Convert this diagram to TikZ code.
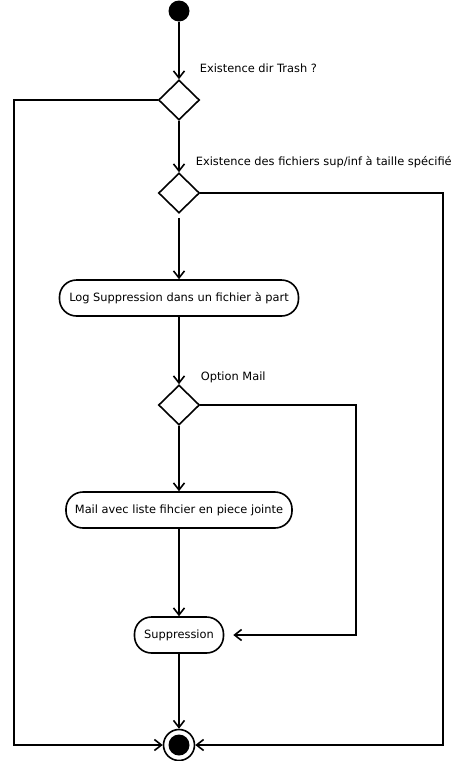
\documentclass[tikz,border=0pt]{standalone}
\usepackage{fontspec}
\setmainfont{DejaVu Sans}
\usetikzlibrary{arrows.meta,shapes.geometric}

\begin{document}
\begin{tikzpicture}
			[x=1pt,y=-1pt,line width=1.6pt,font=\fontsize{11.4}{13}\selectfont,
			every node/.style={inner sep=0pt},
			etat/.style={draw,rounded corners=17pt,minimum height=36pt},
			choix/.style={diamond,draw,minimum width=41pt,minimum height=40pt},
			edge/.style={->,>={Straight Barb[length=7pt,width=11pt]}}]
			\useasboundingbox (0,0) rectangle (452,761);
			\node[circle,fill,minimum size=21pt] (debut) at (179,11) {};
			\node[choix] (trash) at (179,100) {};
			\node[choix] (taille) at (179,193) {};
			\node[etat,minimum width=239pt] (log) at (179,298) {Log Suppression dans un fichier à part};
			\node[choix] (mail) at (179,405) {};
			\node[etat,minimum width=226pt] (envoi) at (179,510) {Mail avec liste fihcier en piece jointe};
			\node[etat,minimum width=89pt] (suppr) at (179,635) {Suppression};
			\node[circle,draw,minimum size=31pt] (fin) at (179,745) {};
			\node[circle,fill,minimum size=21pt] (fincoeur) at (fin) {};
			
			\node[anchor=west] (ltrash) at (199,68) {Existence dir Trash ?};
			\node[anchor=west] (ltaille) at (195,162) {Existence des fichiers sup/inf à taille spécifiée};
			\node[anchor=west] (lmail) at (200,377) {Option Mail};
			
			\coordinate (g1) at (14,100);
			\coordinate (g2) at (14,745);
			\coordinate (d1) at (443,193);
			\coordinate (d2) at (443,745);
			\coordinate (m1) at (356,405);
			\coordinate (m2) at (356,635);
			
			\draw[edge] (debut) -- (trash);
			\draw[edge] (trash) -- (taille);
			\draw[edge,shorten <=4pt] (taille) -- (log);
			\draw[edge] (log) -- (mail);
			\draw[edge] (mail) -- (envoi);
			\draw[edge] (envoi) -- (suppr);
			\draw[edge] (suppr) -- (fin);
			\draw[edge] (trash.west) -- (g1) -- (g2) -- (fin);
			\draw[edge] (taille.east) -- (d1) -- (d2) -- (fin);
			\draw[edge,shorten >=9pt] (mail.east) -- (m1) -- (m2) -- (suppr);
			\end{tikzpicture}
\end{document}
